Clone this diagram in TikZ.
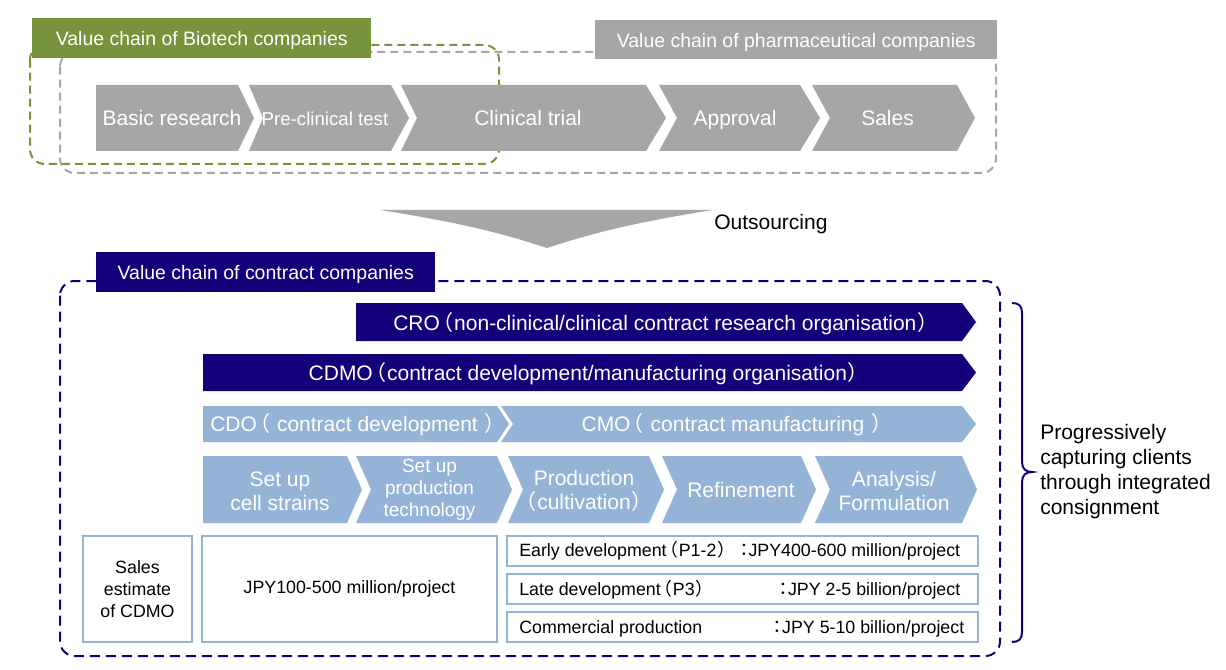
\documentclass[tikz,border=0pt]{standalone}
\usepackage{fontspec}
\setmainfont{Liberation Sans}
\newfontfamily\cjk[RawFeature=+palt]{Noto Sans CJK JP}
\newcommand{\zlp}{{\kern0.1em\cjk （\kern0.08em}}
\newcommand{\zrp}{{\kern0.08em\cjk ）\kern0.1em}}
\newcommand{\zco}{{\cjk ：}}
\definecolor{bgreen}{HTML}{77933C}
\definecolor{pgray}{HTML}{A6A6A6}
\definecolor{navy}{HTML}{16007A}
\definecolor{lblue}{HTML}{95B3D7}
% #1 colour, #2 left, #3 right, #4 top, #5 bottom, #6 tip depth, #7 notch depth
\newcommand{\mychev}[7]{\fill[#1] (#2,#4) -- (#3,#4) -- ({#3+#6},{(#4+#5)/2}) -- (#3,#5) -- (#2,#5) -- ({#2+#7},{(#4+#5)/2}) -- cycle;}
\begin{document}
\begin{tikzpicture}[x=0.75pt,y=-0.75pt,
  lbl/.style={inner sep=0pt, text=white, font=\fontsize{14.6}{17}\selectfont, text height=11pt, text depth=0pt, anchor=north west},
  chevtxt/.style={text=white, font=\fontsize{15.75}{18}\selectfont, anchor=base, inner sep=0pt},
  bartxt/.style={text=white, font=\fontsize{15.75}{18}\selectfont, anchor=base, inner sep=0pt},
  steptxt/.style={text=white, font=\fontsize{15.75}{18}\selectfont, align=center, inner sep=0pt},
  boxtxt/.style={font=\fontsize{13.35}{16.3}\selectfont, inner sep=0pt},
  cell/.style={draw=lblue, line width=1.8pt, inner sep=0pt, align=center, font=\fontsize{13.35}{16.3}\selectfont},
  plaintxt/.style={font=\fontsize{15.75}{18.75}\selectfont, inner sep=0pt},
]
\useasboundingbox (0,0) rectangle (1226,670);
\fill[white] (0,0) rectangle (1226,670);

% ---------- top: value chains ----------
\draw[pgray, line width=1.5pt, dash pattern=on 6pt off 3.75pt, rounded corners=11pt] (60,52) rectangle (996,173);
\draw[bgreen, line width=1.5pt, dash pattern=on 6pt off 3.75pt, rounded corners=11pt] (30,45) rectangle (499,164);

\node[lbl, fill=bgreen, minimum width=254.25pt, minimum height=30pt] (biolabel) at (32,18) {Value chain of Biotech companies};
\node[lbl, fill=pgray, minimum width=301.5pt, minimum height=29.25pt] (pharmalabel) at (595,20) {Value chain of pharmaceutical companies};

\mychev{pgray}{96}{238}{85}{151}{16}{0}
\mychev{pgray}{249}{391}{85}{151}{18}{14}
\mychev{pgray}{401}{646}{85}{151}{20}{16}
\mychev{pgray}{659}{800}{85}{151}{20}{18}
\mychev{pgray}{812}{957}{85}{151}{18}{18}

\node[chevtxt] (basic) at (172,125.5) {Basic research};
\node[chevtxt, font=\fontsize{14}{16}\selectfont] (precl) at (325,125.5) {Pre-clinical test};
\node[chevtxt] (clin) at (528,125.5) {Clinical trial};
\node[chevtxt] (appr) at (735,125.5) {Approval};
\node[chevtxt] (sales) at (887.5,125.5) {Sales};

% ---------- outsourcing arrow ----------
\fill[pgray] (380,210) .. controls (470,224) and (510,236) .. (547,248) .. controls (584,236) and (624,224) .. (713,210) -- cycle;
\node[plaintxt, anchor=base west] (outs) at (714,229) {Outsourcing};

% ---------- contract companies ----------
\draw[navy, line width=1.5pt, dash pattern=on 7.5pt off 4.5pt, rounded corners=11pt] (60,281) rectangle (1000,656);
\node[lbl, fill=navy, minimum width=254.25pt, minimum height=30pt] (contractlabel) at (96,252) {Value chain of contract companies};

\mychev{navy}{356}{962}{303}{341}{14}{0}
\mychev{navy}{203}{962}{354}{391}{14}{0}
\mychev{lblue}{203}{497}{406}{442}{12}{0}
\mychev{lblue}{501}{962}{406}{442}{14}{12}

\node[bartxt] (cro) at (662,330) {CRO\zlp non-clinical/clinical contract research organisation\zrp};
\node[bartxt] (cdmo) at (585,380) {CDMO\zlp contract development/manufacturing organisation\zrp};
\node[bartxt, anchor=base west] (cdo) at (210,431) {CDO\zlp{} contract development \zrp};
\node[bartxt] (cmo) at (733,431) {CMO\zlp{} contract manufacturing \zrp};

\mychev{lblue}{203}{347}{456}{523}{15}{0}
\mychev{lblue}{356}{497}{456}{523}{15}{15}
\mychev{lblue}{508}{649}{456}{523}{15}{15}
\mychev{lblue}{662}{801}{456}{523}{15}{15}
\mychev{lblue}{815}{962}{456}{523}{15}{15}

\node[steptxt] (s1) at (280,491) {Set up\\cell strains};
\node[steptxt, font=\fontsize{14.25}{16.5}\selectfont] (s2) at (429.5,489.9) {Set up\\production\\technology};
\node[steptxt] (s3) at (584,491.3) {Production\\\zlp cultivation\zrp};
\node[steptxt, anchor=base] (s4) at (741,497) {Refinement};
\node[steptxt] (s5) at (894,490.7) {Analysis/\\Formulation};

% ---------- sales estimate table ----------
\node[cell, minimum width=81.75pt, minimum height=79.5pt] (salesbox) at (137.5,589) {Sales\\estimate\\of CDMO};
\node[cell, minimum width=221.25pt, minimum height=79.5pt] (jpybox) at (349.5,589) {JPY100-500 million/project};
\node[cell, minimum width=353.25pt, minimum height=22.5pt] (early) at (742.5,551) {};
\node[cell, minimum width=353.25pt, minimum height=22.5pt] (late) at (742.5,589) {};
\node[cell, minimum width=353.25pt, minimum height=22.5pt] (comm) at (742.5,627) {};

\node[boxtxt, anchor=base west] (earlyL) at (519,556.7) {Early development\zlp P1-2\zrp};
\node[boxtxt, anchor=base east] (earlyR) at (960.5,556.7) {\zco JPY400-600 million/project};
\node[boxtxt, anchor=base west] (lateL) at (519,595.7) {Late development\zlp P3\zrp};
\node[boxtxt, anchor=base east] (lateR) at (960.5,595.7) {\zco JPY 2-5 billion/project};
\node[boxtxt, anchor=base west] (commL) at (519,633.3) {Commercial production};
\node[boxtxt, anchor=base east] (commR) at (964.5,633.3) {\zco JPY 5-10 billion/project};

% ---------- brace ----------
\draw[navy, line width=1.5pt] (1012,303) .. controls (1019,303) and (1022,306) .. (1022,313) -- (1022,462) .. controls (1022,469) and (1026,472) .. (1032,472) .. controls (1026,472) and (1022,475) .. (1022,482) -- (1022,632) .. controls (1022,639) and (1019,642) .. (1012,642);
\node[plaintxt, align=left, anchor=west] (prog) at (1040,472) {Progressively\\capturing clients\\through integrated\\consignment};
\end{tikzpicture}
\end{document}
